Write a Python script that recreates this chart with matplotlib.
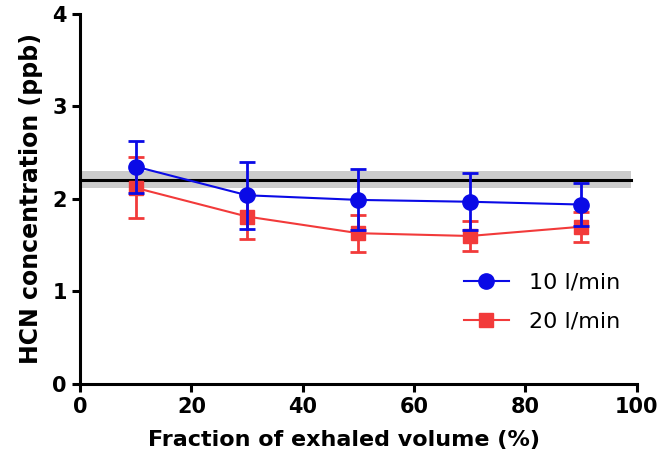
import matplotlib
matplotlib.use("Agg")
import matplotlib.pyplot as plt
from matplotlib.lines import Line2D

x = [10, 30, 50, 70, 90]
blue_mean = [2.35, 2.04, 1.99, 1.97, 1.94]
blue_err = [0.28, 0.36, 0.33, 0.31, 0.23]
red_mean = [2.12, 1.81, 1.63, 1.60, 1.70]
red_err = [0.33, 0.24, 0.20, 0.16, 0.16]
ref_line = 2.21
ref_low, ref_high = 2.12, 2.30
labels = ["10 l/min", "20 l/min"]
xticks = [0, 20, 40, 60, 80, 100]
yticks = [0, 1, 2, 3, 4]

plt.rcParams['font.family'] = ['DejaVu Sans']

fig = plt.figure(figsize=(6.62, 4.66), dpi=100)
ax = fig.add_axes([0.121, 0.176, 0.841, 0.794])

ax.fill_between([0, 99], [ref_low, ref_low], [ref_high, ref_high], color='#cccccc', lw=0, zorder=1)
ax.plot([0, 99], [ref_line, ref_line], color='black', lw=2.2, zorder=2)

blue = '#0a0ae6'
red = '#f23a3a'
ax.errorbar(x, red_mean, yerr=red_err, color=red, marker='s', ms=10, lw=1.5,
            capsize=6, capthick=2, elinewidth=2, zorder=3)
ax.errorbar(x, blue_mean, yerr=blue_err, color=blue, marker='o', ms=11, lw=1.5,
            capsize=6, capthick=2, elinewidth=2, zorder=4)

ax.set_xlim(0, 100)
ax.set_ylim(0, 4)
ax.set_xticks(xticks)
ax.set_yticks(yticks)
for s in ['top', 'right']:
    ax.spines[s].set_visible(False)
for s in ['left', 'bottom']:
    ax.spines[s].set_linewidth(2.2)
ax.tick_params(width=2.2, length=6, labelsize=15, direction='out')
for lab in ax.get_xticklabels() + ax.get_yticklabels():
    lab.set_fontweight('bold')

ax.set_xlabel('Fraction of exhaled volume (%)', fontsize=16, fontweight='bold', labelpad=9)
ax.xaxis.label.set_x(0.474)
ax.set_ylabel('HCN concentration (ppb)', fontsize=17, fontweight='bold', labelpad=7)

handles = [Line2D([], [], color=blue, marker='o', ms=11, lw=1.5),
           Line2D([], [], color=red, marker='s', ms=10, lw=1.5)]
ax.legend(handles, labels, loc='center left', bbox_to_anchor=(0.69, 0.222),
          frameon=False, fontsize=16, handlelength=2.0, labelspacing=0.85,
          borderpad=0, borderaxespad=0, handletextpad=0.9)

fig.savefig('out.png', dpi=100)
